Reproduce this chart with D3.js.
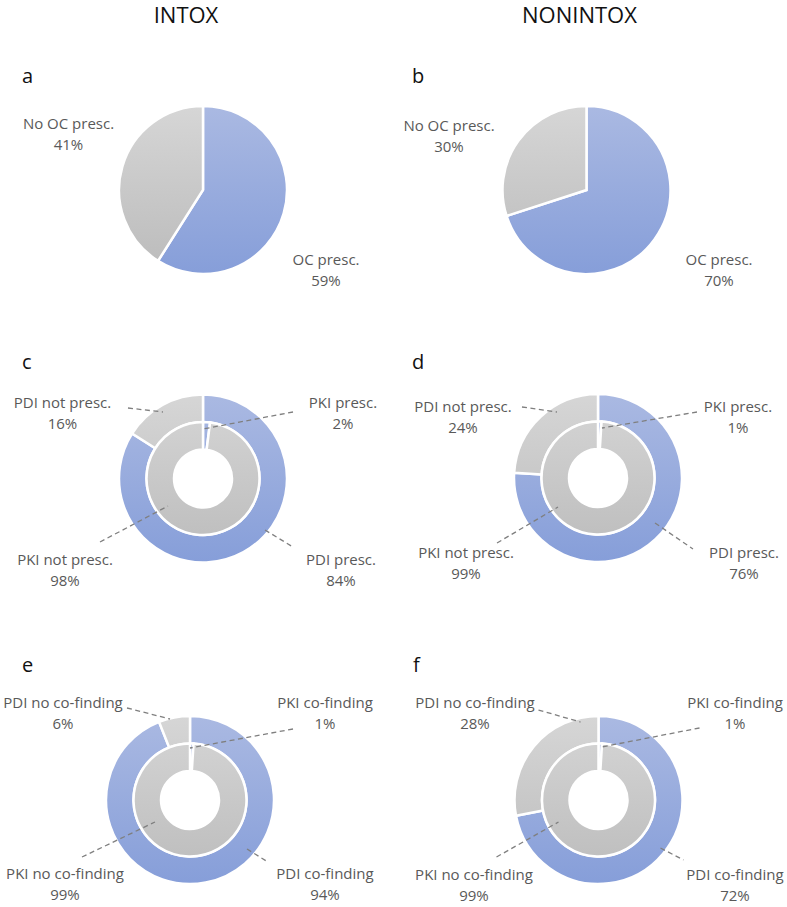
<!DOCTYPE html>
<html>
<head>
<meta charset="utf-8">
<script src="https://cdn.jsdelivr.net/npm/d3@7"></script>
<style>
  html, body { margin: 0; padding: 0; background: #fff; }
  svg { display: block; }
</style>
</head>
<body>
<svg id="chart" width="787" height="907"></svg>
<script>
// ---------- DATA ----------
const columnTitles = ["INTOX", "NONINTOX"];
const panelLetters = ["a", "b", "c", "d", "e", "f"];

const ocCategories = ["OC presc.", "No OC presc."];
const ocIntox = [59, 41];
const ocNonintox = [70, 30];

const presOuterCategories = ["PDI presc.", "PDI not presc."];
const presOuterIntox = [84, 16];
const presOuterNonintox = [76, 24];
const presInnerCategories = ["PKI presc.", "PKI not presc."];
const presInnerIntox = [2, 98];
const presInnerNonintox = [1, 99];

const coOuterCategories = ["PDI co-finding", "PDI no co-finding"];
const coOuterIntox = [94, 6];
const coOuterNonintox = [72, 28];
const coInnerCategories = ["PKI co-finding", "PKI no co-finding"];
const coInnerIntox = [1, 99];
const coInnerNonintox = [1, 99];

// ---------- LAYOUT (positions / styles only) ----------
const R = 84, HOLE = 29, MID = 56.5;
const panels = [
  { letter: "a", cx: 203, cy: 190, lx: 22, ly: 83, type: "pie",
    rings: [{ cats: ocCategories, vals: ocIntox }],
    labels: [
      { ring: 0, i: 0, x: 123, y: 75 },
      { ring: 0, i: 1, x: -134.5, y: -61 } ] },
  { letter: "b", cx: 586.5, cy: 190, lx: 412, ly: 83, type: "pie",
    rings: [{ cats: ocCategories, vals: ocNonintox }],
    labels: [
      { ring: 0, i: 0, x: 132.5, y: 75 },
      { ring: 0, i: 1, x: -137.5, y: -59 } ] },
  { letter: "c", cx: 203, cy: 478.5, lx: 22, ly: 369, type: "donut",
    rings: [{ cats: presOuterCategories, vals: presOuterIntox },
            { cats: presInnerCategories, vals: presInnerIntox }],
    labels: [
      { ring: 0, i: 0, x: 138, y: 86.5, line: [62, 51.5, 90, 68.5] },
      { ring: 0, i: 1, x: -140.5, y: -70.5, line: [-75, -70.5, -40, -66.5] },
      { ring: 1, i: 0, x: 140, y: -70.5, line: [90, -66.5, 0, -49.5] },
      { ring: 1, i: 1, x: -138, y: 86.5, line: [-103, 63.5, -35, 27.5] } ] },
  { letter: "d", cx: 598, cy: 478, lx: 412, ly: 369, type: "donut",
    rings: [{ cats: presOuterCategories, vals: presOuterNonintox },
            { cats: presInnerCategories, vals: presInnerNonintox }],
    labels: [
      { ring: 0, i: 0, x: 146, y: 80, line: [57, 45, 95, 71] },
      { ring: 0, i: 1, x: -135, y: -66, line: [-76, -71, -41, -66] },
      { ring: 1, i: 0, x: 140, y: -66, line: [99, -66, 4, -50] },
      { ring: 1, i: 1, x: -132, y: 80, line: [-101, 65, -40, 29] } ] },
  { letter: "e", cx: 190, cy: 800, lx: 22, ly: 672, type: "donut",
    rings: [{ cats: coOuterCategories, vals: coOuterIntox },
            { cats: coInnerCategories, vals: coInnerIntox }],
    labels: [
      { ring: 0, i: 0, x: 135, y: 79, line: [57, 49, 78, 62] },
      { ring: 0, i: 1, x: -127, y: -92, line: [-63, -92, -20, -81] },
      { ring: 1, i: 0, x: 135, y: -92, line: [103, -71, 0, -52] },
      { ring: 1, i: 1, x: -125, y: 79, line: [-108, 57, -35, 22] } ] },
  { letter: "f", cx: 598.5, cy: 800, lx: 413, ly: 672, type: "donut",
    rings: [{ cats: coOuterCategories, vals: coOuterNonintox },
            { cats: coInnerCategories, vals: coInnerNonintox }],
    labels: [
      { ring: 0, i: 0, x: 136.5, y: 80, line: [62, 48, 85, 60] },
      { ring: 0, i: 1, x: -123.5, y: -92, line: [-60, -90, -18, -78] },
      { ring: 1, i: 0, x: 136.5, y: -92, line: [101, -72, 3, -53] },
      { ring: 1, i: 1, x: -124.5, y: 80, line: [-102, 57, -40, 22] } ] }
];

const colorScale = d3.scaleOrdinal().domain([0, 1]).range(["blue", "gray"]);
const gradStops = {
  blue: ["#aab9e2", "#869ed9"],
  gray: ["#d6d6d6", "#bbbbbb"]
};

const svg = d3.select("#chart");
const defs = svg.append("defs");
const FONT = "'Open Sans', 'Noto Sans', sans-serif";

// column titles
const titleX = d3.scalePoint().domain(columnTitles).range([186, 579.5]);
svg.selectAll("text.title").data(columnTitles).enter().append("text")
  .attr("class", "title")
  .attr("x", d => titleX(d)).attr("y", 23)
  .attr("text-anchor", "middle")
  .attr("font-family", FONT).attr("font-size", 22)
  .attr("fill", "#111")
  .text(d => d);

const pie = d3.pie().sort(null).value(d => d).startAngle(0).endAngle(2 * Math.PI);

panels.forEach((p, pi) => {
  const g = svg.append("g").attr("transform", `translate(${p.cx},${p.cy})`);

  // gradients per panel (vertical, spanning the pie, in the group's local space)
  Object.keys(gradStops).forEach(k => {
    const lg = defs.append("linearGradient")
      .attr("id", `grad-${k}-${pi}`)
      .attr("gradientUnits", "userSpaceOnUse")
      .attr("x1", 0).attr("y1", -R).attr("x2", 0).attr("y2", R);
    lg.append("stop").attr("offset", "0%").attr("stop-color", gradStops[k][0]);
    lg.append("stop").attr("offset", "100%").attr("stop-color", gradStops[k][1]);
  });

  const ringRadii = p.type === "pie"
    ? [[0, R]]
    : [[MID, R], [HOLE, MID]];

  p.rings.forEach((ring, ri) => {
    const arc = d3.arc().innerRadius(ringRadii[ri][0]).outerRadius(ringRadii[ri][1]);
    g.append("g").selectAll("path").data(pie(ring.vals)).enter().append("path")
      .attr("d", arc)
      .attr("fill", (d, i) => `url(#grad-${colorScale(i)}-${pi})`)
      .attr("stroke", "#fff")
      .attr("stroke-width", 2.5)
      .attr("stroke-linejoin", "miter");
  });

  // leader lines
  p.labels.forEach(l => {
    if (!l.line) return;
    g.append("line")
      .attr("x1", l.line[0]).attr("y1", l.line[1])
      .attr("x2", l.line[2]).attr("y2", l.line[3])
      .attr("stroke", "#7f7f7f").attr("stroke-width", 1.3)
      .attr("stroke-dasharray", "5,3.5");
  });

  // labels
  p.labels.forEach(l => {
    const ring = p.rings[l.ring];
    const t = g.append("text")
      .attr("text-anchor", "middle")
      .attr("font-family", FONT).attr("font-size", 15)
      .attr("fill", "#595959");
    t.append("tspan").attr("x", l.x).attr("y", l.y).text(ring.cats[l.i]);
    t.append("tspan").attr("x", l.x).attr("y", l.y + 21).text(ring.vals[l.i] + "%");
  });

  // panel letter
  svg.append("text")
    .attr("x", p.lx).attr("y", p.ly)
    .attr("font-family", FONT).attr("font-size", 20)
    .attr("fill", "#111")
    .text(p.letter);
});
</script>
</body>
</html>
